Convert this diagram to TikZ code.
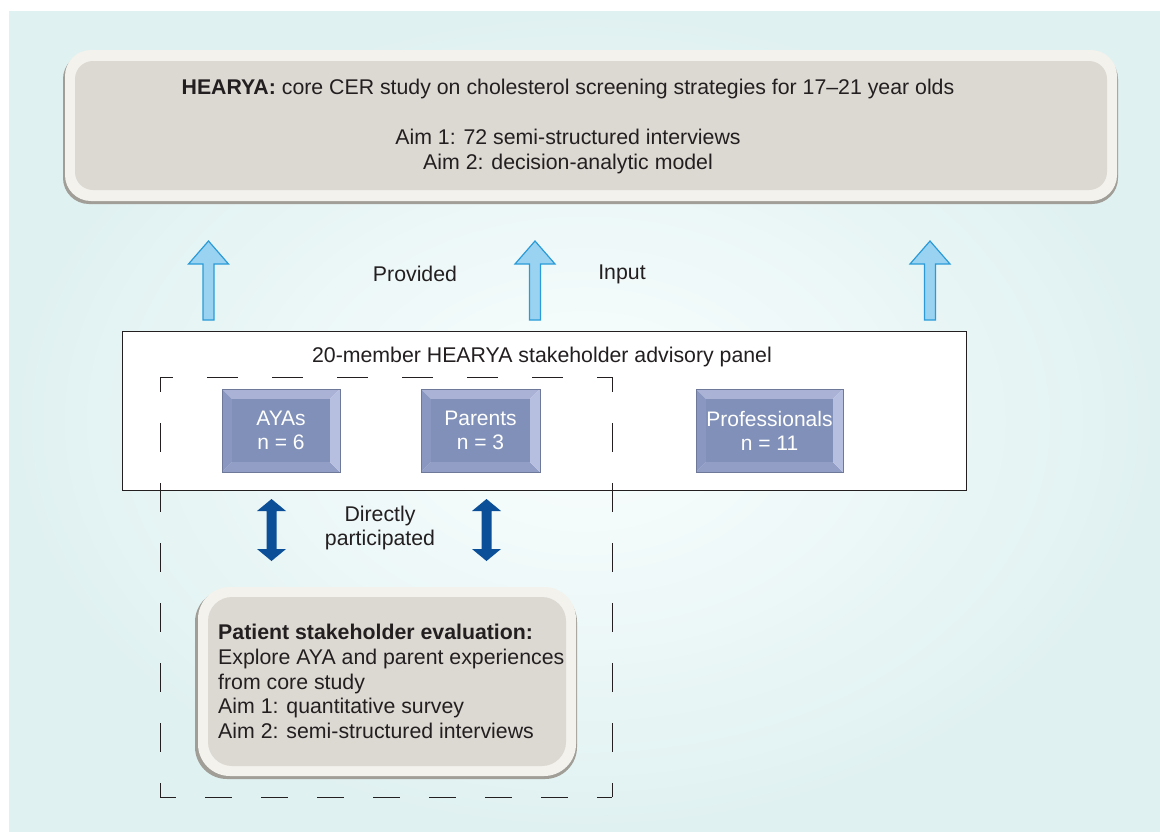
\documentclass[tikz,border=0pt]{standalone}
\usepackage{fontspec}
\setmainfont{Liberation Sans}
\usetikzlibrary{calc}
\definecolor{bgin}{HTML}{FAFEFE}
\definecolor{bgout}{HTML}{E0F1F1}
\definecolor{rim}{HTML}{F3F2EC}
\definecolor{rimshadow}{HTML}{A09E97}
\definecolor{boxfill}{HTML}{DCD9D3}
\definecolor{lbfill}{HTML}{9AD3F2}
\definecolor{lbdraw}{HTML}{2A9BD8}
\definecolor{dkblue}{HTML}{0B4F98}
\definecolor{bvinner}{HTML}{8190B8}
\definecolor{bvtop}{HTML}{AAB3D6}
\definecolor{bvleft}{HTML}{8A97C0}
\definecolor{bvright}{HTML}{B7BFE0}
\definecolor{bvbottom}{HTML}{939EC6}
\definecolor{txt}{HTML}{231F20}
\tikzset{
  fattip/.style={fill=lbfill,draw=lbdraw,line width=1.2pt,line join=miter},
  dblarrow/.style={fill=dkblue,draw=none},
  plain/.style={inner sep=0pt,text=txt,font=\fontsize{21.3}{24.7}\selectfont},
  bevtext/.style={inner sep=0pt,text=white,align=center,font=\fontsize{21}{24}\selectfont},
  dashside/.style={txt,line width=0.8pt},
}
% bevel box: #1 name, #2 x1, #3 y1, #4 x2, #5 y2
\newcommand\bevbox[5]{%
  \fill[bvtop] (#2,#3) -- (#4,#3) -- ({#4-10},{#3+10}) -- ({#2+10},{#3+10}) -- cycle;
  \fill[bvbottom] (#2,#5) -- (#4,#5) -- ({#4-10},{#5-10}) -- ({#2+10},{#5-10}) -- cycle;
  \fill[bvleft] (#2,#3) -- ({#2+10},{#3+10}) -- ({#2+10},{#5-10}) -- (#2,#5) -- cycle;
  \fill[bvright] (#4,#3) -- ({#4-10},{#3+10}) -- ({#4-10},{#5-10}) -- (#4,#5) -- cycle;
  \fill[bvinner] ({#2+10},{#3+10}) rectangle ({#4-10},{#5-10});
  \draw[bvleft!80!black,line width=0.4pt] (#2,#3) rectangle (#4,#5);
  \coordinate (#1) at ({(#2+#4)/2},{(#3+#5)/2});}
% light blue up arrow: x, tip y, bottom y
\newcommand\uparr[3]{%
  \draw[fattip] ({#1-5.5},#3) -- ({#1-5.5},{#2+23}) -- ({#1-20},{#2+23}) -- (#1,#2)
     -- ({#1+20},{#2+23}) -- ({#1+5.5},{#2+23}) -- ({#1+5.5},#3) -- cycle;}
% dark double arrow between two named coordinates (top, bottom)
\newcommand\dblarr[2]{%
  \fill[dblarrow] ($(#1)$) -- ($(#1)+(14.5,12)$) -- ($(#1)+(5,12)$) -- ($(#2)+(5,-12)$)
     -- ($(#2)+(14.5,-12)$) -- ($(#2)$) -- ($(#2)+(-14.5,-12)$) -- ($(#2)+(-5,-12)$)
     -- ($(#1)+(-5,12)$) -- ($(#1)+(-14.5,12)$) -- cycle;}
\begin{document}
\begin{tikzpicture}[x=1pt,y=-1pt]
\useasboundingbox (0,0) rectangle (1160,831);
\fill[white] (0,0) rectangle (1160,831);
\shade[inner color=bgin,outer color=bgout] (9,11) rectangle (1160,831);

% top box
\fill[rimshadow,rounded corners=26] (63,53) rectangle (1118,204);
\fill[rim,rounded corners=26] (65,50) rectangle (1117,201);
\fill[boxfill,rounded corners=18] (75,61) rectangle (1107,190);
\node[plain,align=center] (top) at (568,126.5)
  {\textbf{HEARYA:} core CER study on cholesterol screening strategies for 17–21 year olds\\[25pt]
   Aim 1: 72 semi-structured interviews\\ Aim 2: decision-analytic model};

% up arrows
\uparr{208.5}{241}{320}
\uparr{535}{241}{320}
\uparr{930}{241}{320}
\node[plain] (provided) at (415,274) {Provided};
\node[plain] (input) at (622,274) {Input};

% panel
\draw[fill=white,line width=0.8pt,draw=txt] (122,331) rectangle (966,490);
\node[plain] (paneltitle) at (542,357) {20-member HEARYA stakeholder advisory panel};

% dashed group (each side drawn with its own phase so the corners are L-shaped)
\coordinate (g1) at (160,377);
\coordinate (g2) at (612,377);
\coordinate (g3) at (612,797);
\coordinate (g4) at (160,797);
\draw[dashside,dash pattern=on 31pt off 34pt,dash phase=18pt] (g1) -- (g2);
\draw[dashside,dash pattern=on 29pt off 31pt,dash phase=14pt] (g2) -- (g3);
\draw[dashside,dash pattern=on 29pt off 31pt,dash phase=14pt] (g1) -- (g4);
\draw[dashside,dash pattern=on 27pt off 29pt,dash phase=11pt] (g4) -- (g3);

% bevel boxes
\bevbox{aya}{222}{389}{340}{472}
\node[bevtext] (ayat) at (aya) {AYAs\\n = 6};
\bevbox{par}{421}{389}{540}{472}
\node[bevtext] (part) at (par) {Parents\\n = 3};
\bevbox{pro}{696}{389}{843}{472}
\node[bevtext] (prot) at (pro) {Professionals\\n = 11};

% double arrows
\coordinate (d1t) at (271.5,499);
\coordinate (d1b) at (271.5,561);
\coordinate (d2t) at (486.5,499);
\coordinate (d2b) at (486.5,561);
\dblarr{d1t}{d1b}
\dblarr{d2t}{d2b}
\node[plain,align=center] (direct) at (380,528) {Directly\\participated};

% bottom box
\fill[rimshadow,rounded corners=32] (195,590) rectangle (577,779);
\fill[rim,rounded corners=32] (198,587) rectangle (576,776);
\fill[boxfill,rounded corners=24] (208,597) rectangle (566,766);
\node[plain,align=left,anchor=north west] (eval) at (218,624)
  {\textbf{Patient stakeholder evaluation:}\\
   Explore AYA and parent experiences\\
   from core study\\
   Aim 1: quantitative survey\\
   Aim 2: semi-structured interviews};
\end{tikzpicture}
\end{document}
